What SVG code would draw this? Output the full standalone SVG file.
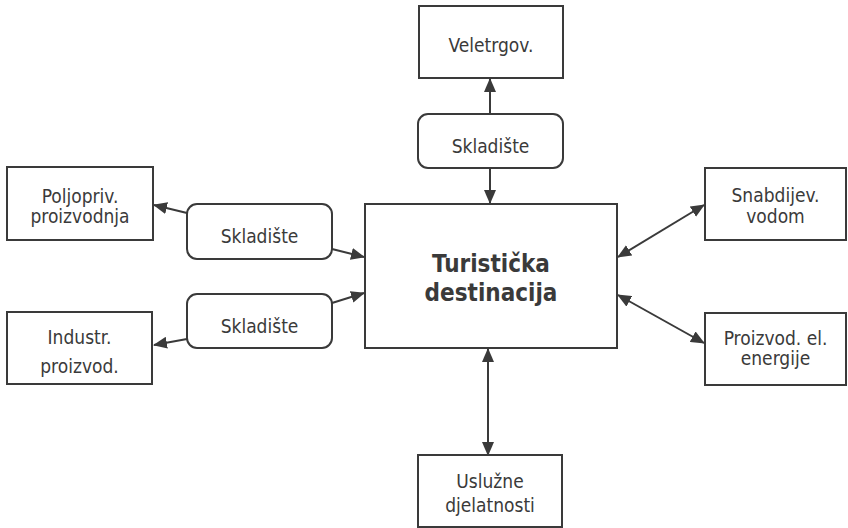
<svg xmlns="http://www.w3.org/2000/svg" width="848" height="528" viewBox="0 0 848 528">
<style>
.box{fill:#fff;stroke:#3a3a3a;stroke-width:2}
.t{font-family:"DejaVu Sans Condensed","DejaVu Sans",sans-serif;font-size:19px;fill:#3a3a3a;text-anchor:middle}
.b{font-family:"DejaVu Sans Condensed","DejaVu Sans",sans-serif;font-size:24px;font-weight:bold;fill:#3a3a3a;text-anchor:middle}
.c{stroke:#3a3a3a;stroke-width:2;fill:none}
</style>
<defs>
<marker id="ah" markerUnits="userSpaceOnUse" markerWidth="14" markerHeight="12" viewBox="0 0 14 12" refX="13" refY="6" orient="auto-start-reverse">
<path d="M0,0 L14,6 L0,12 z" fill="#3a3a3a"/>
</marker>
</defs>
<rect width="848" height="528" fill="#fff"/>
<g id="connectors">
<line class="c" x1="490" y1="114" x2="490" y2="79" marker-end="url(#ah)"/>
<line class="c" x1="490" y1="168" x2="490" y2="203" marker-end="url(#ah)"/>
<line class="c" x1="187" y1="213" x2="154" y2="205" marker-end="url(#ah)"/>
<line class="c" x1="332" y1="249" x2="364" y2="257" marker-end="url(#ah)"/>
<line class="c" x1="332" y1="303" x2="364" y2="293" marker-end="url(#ah)"/>
<line class="c" x1="187" y1="339" x2="154" y2="345" marker-end="url(#ah)"/>
<line class="c" x1="618" y1="257" x2="704" y2="205" marker-start="url(#ah)" marker-end="url(#ah)"/>
<line class="c" x1="618" y1="295" x2="704" y2="343" marker-start="url(#ah)" marker-end="url(#ah)"/>
<line class="c" x1="488" y1="349" x2="488" y2="455" marker-start="url(#ah)" marker-end="url(#ah)"/>
</g>
<g id="veletrgov">
<rect class="box" x="419" y="6" width="144" height="72"/>
<text class="t" x="491" y="52">Veletrgov.</text>
</g>
<g id="skladiste-top">
<rect class="box" x="418" y="114" width="145" height="54" rx="10"/>
<text class="t" x="490.5" y="153">Skladište</text>
</g>
<g id="turisticka">
<rect class="box" x="365" y="204" width="252" height="144"/>
<text class="b" x="491" y="272">Turistička</text>
<text class="b" x="491" y="301">destinacija</text>
</g>
<g id="poljopriv">
<rect class="box" x="7" y="167" width="146" height="73"/>
<text class="t" x="80" y="203">Poljopriv.</text>
<text class="t" x="80" y="223">proizvodnja</text>
</g>
<g id="skladiste-left-1">
<rect class="box" x="187" y="204" width="145" height="55" rx="10"/>
<text class="t" x="259.5" y="243">Skladište</text>
</g>
<g id="skladiste-left-2">
<rect class="box" x="187" y="294" width="145" height="54" rx="10"/>
<text class="t" x="259.5" y="333">Skladište</text>
</g>
<g id="industr">
<rect class="box" x="7" y="312" width="145" height="72"/>
<text class="t" x="79.5" y="344">Industr.</text>
<text class="t" x="79.5" y="373">proizvod.</text>
</g>
<g id="snabdijev">
<rect class="box" x="705" y="168" width="141" height="72"/>
<text class="t" x="775.5" y="202">Snabdijev.</text>
<text class="t" x="775.5" y="223">vodom</text>
</g>
<g id="proizvod-el">
<rect class="box" x="705" y="313" width="141" height="72"/>
<text class="t" x="775.5" y="345">Proizvod. el.</text>
<text class="t" x="775.5" y="365">energije</text>
</g>
<g id="usluzne">
<rect class="box" x="418" y="455" width="144" height="72"/>
<text class="t" x="490" y="488">Uslužne</text>
<text class="t" x="490" y="512">djelatnosti</text>
</g>
</svg>
